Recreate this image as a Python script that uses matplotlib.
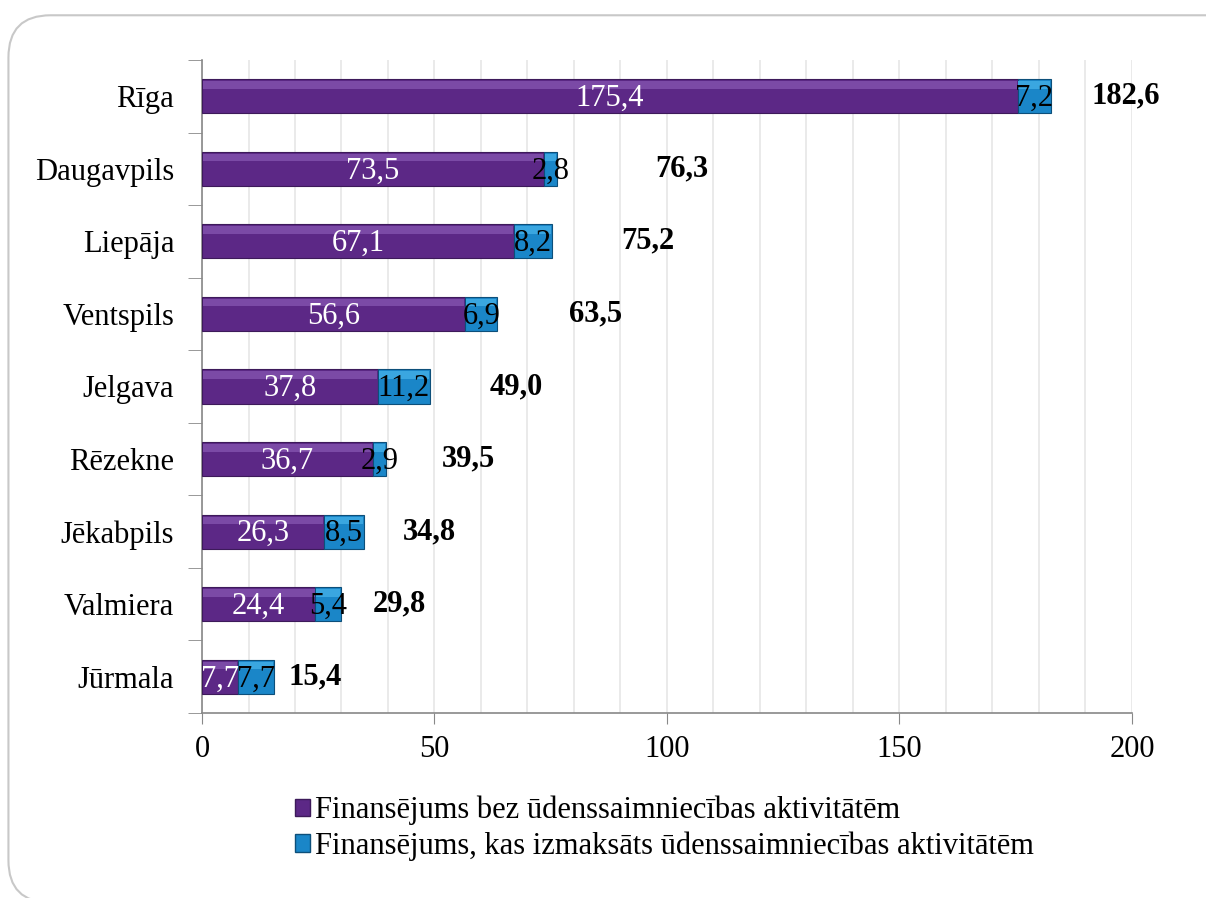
import matplotlib.pyplot as plt
import numpy as np
from matplotlib.patches import FancyBboxPatch

plt.rcParams['font.family'] = ['Liberation Serif', 'DejaVu Serif']

# Pilsētu dati (milj. EUR)
cities = ['Rīga', 'Daugavpils', 'Liepāja', 'Ventspils', 'Jelgava',
          'Rēzekne', 'Jēkabpils', 'Valmiera', 'Jūrmala']
no_water = [175.4, 73.5, 67.1, 56.6, 37.8, 36.7, 26.3, 24.4, 7.7]
water = [7.2, 2.8, 8.2, 6.9, 11.2, 2.9, 8.5, 5.4, 7.7]
totals = [182.6, 76.3, 75.2, 63.5, 49.0, 39.5, 34.8, 29.8, 15.4]
total_label_x = [198.7, 103.2, 95.9, 84.7, 67.5, 57.2, 49.0, 42.4, 24.3]

legend_labels = ['Finansējums bez ūdenssaimniecības aktivitātēm',
                 'Finansējums, kas izmaksāts ūdenssaimniecības aktivitātēm']

purple = '#5c2886'
purple_hi = '#7b4aa6'
blue = '#1a86c8'
blue_hi = '#3aa6e0'
fs = 22

fig = plt.figure(figsize=(12.06, 8.98), dpi=100)
ax = fig.add_axes([0.1675, 0.206, 0.7711, 0.7272])

y = np.arange(len(cities))
h = 0.47
no_water = np.array(no_water)
water = np.array(water)

# main bars
ax.barh(y, no_water, height=h, color=purple, edgecolor='#3d1a5a', linewidth=0.8, zorder=3)
ax.barh(y, water, left=no_water, height=h, color=blue, edgecolor='#0d4f7a', linewidth=0.8, zorder=3)
# lighter top strip for a bevelled look
ax.barh(y - h * 0.33, no_water - 0.4, left=0.2, height=h * 0.22, color=purple_hi, linewidth=0, zorder=4)
ax.barh(y - h * 0.33, water - 0.4, left=no_water + 0.2, height=h * 0.22, color=blue_hi, linewidth=0, zorder=4)

# values inside segments
for i in range(len(cities)):
    ax.text(no_water[i] / 2, y[i] + 0.03, f'{no_water[i]:.1f}'.replace('.', ','),
            ha='center', va='center', color='white', fontsize=fs, zorder=5)
    ax.text(no_water[i] + water[i] / 2, y[i] + 0.03, f'{water[i]:.1f}'.replace('.', ','),
            ha='center', va='center', color='black', fontsize=fs, zorder=5)
    ax.text(total_label_x[i], y[i], f'{totals[i]:.1f}'.replace('.', ','),
            ha='center', va='center', color='black', fontsize=fs, fontweight='bold', zorder=5)

ax.set_xlim(0, 200)
ax.set_ylim(len(cities) - 0.5, -0.5)
ax.set_yticks(y)
ax.set_yticklabels(cities, fontsize=fs)
ax.set_yticks(np.arange(len(cities) + 1) - 0.5, minor=True)
ax.tick_params(axis='y', which='major', length=0, pad=20)
ax.tick_params(axis='y', which='minor', length=10, color='#888888', direction='out')
ax.set_xticks(np.arange(0, 201, 50))
ax.set_xticks(np.arange(0, 201, 10), minor=True)
ax.tick_params(axis='x', which='major', labelsize=fs, length=8, color='#888888', pad=8)
ax.tick_params(axis='x', which='minor', length=0)
ax.grid(axis='x', which='both', color='#e6e6e6', linewidth=1.2, zorder=0)
ax.set_axisbelow(True)

for side in ['top', 'right']:
    ax.spines[side].set_visible(False)
for side in ['left', 'bottom']:
    ax.spines[side].set_color('#888888')
    ax.spines[side].set_linewidth(1.2)

handles = [plt.Rectangle((0, 0), 1, 1, facecolor=purple, edgecolor='#3d1a5a'),
           plt.Rectangle((0, 0), 1, 1, facecolor=blue, edgecolor='#0d4f7a')]
fig.legend(handles, legend_labels, loc='upper left', bbox_to_anchor=(0.232, 0.131),
           frameon=False, fontsize=fs, handlelength=0.5, handleheight=0.5,
           handletextpad=0.15, labelspacing=0.2, borderpad=0)

# rounded outer frame
frame = FancyBboxPatch((0.007, -0.005), 1.2, 0.988, boxstyle='round,pad=0,rounding_size=0.035',
                       transform=fig.transFigure, facecolor='none', edgecolor='#c8c8c8',
                       linewidth=1.5, mutation_aspect=1.34)
fig.patches.append(frame)

fig.savefig('out.png', dpi=100)
